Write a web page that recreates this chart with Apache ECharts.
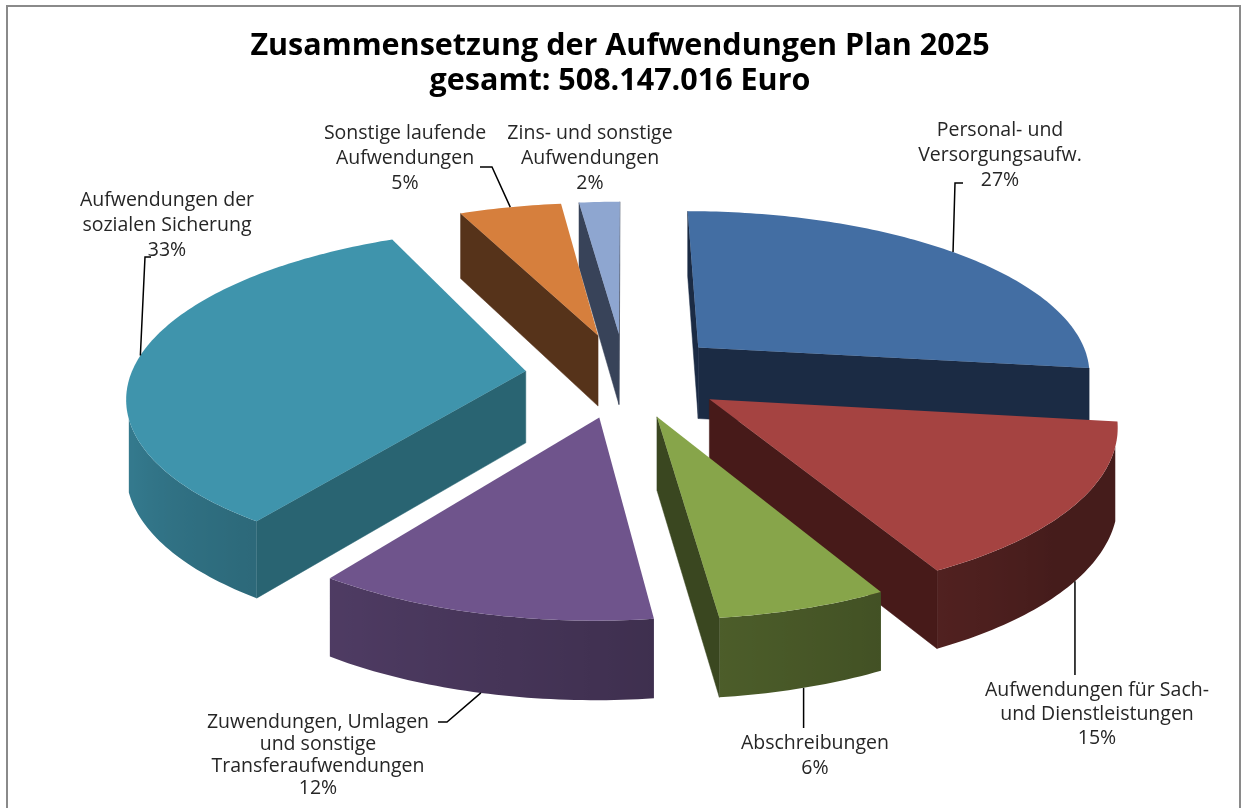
<!DOCTYPE html>
<html><head><meta charset="utf-8">
<script src="https://cdn.jsdelivr.net/npm/echarts@6/dist/echarts.min.js"></script>
<style>html,body{margin:0;padding:0;background:#fff}#c{width:1241px;height:808px}</style>
</head><body><div id="c"></div><script>
// ---- data ----
const titleLines = ['Zusammensetzung der Aufwendungen Plan 2025', 'gesamt: 508.147.016 Euro'];
const categories = ['Personal- und Versorgungsaufw.', 'Aufwendungen für Sach- und Dienstleistungen', 'Abschreibungen',
  'Zuwendungen, Umlagen und sonstige Transferaufwendungen', 'Aufwendungen der sozialen Sicherung',
  'Sonstige laufende Aufwendungen', 'Zins- und sonstige Aufwendungen'];
const labelNames = [['Personal- und', 'Versorgungsaufw.'], ['Aufwendungen für Sach-', 'und Dienstleistungen'], ['Abschreibungen'],
  ['Zuwendungen, Umlagen', 'und sonstige', 'Transferaufwendungen'], ['Aufwendungen der', 'sozialen Sicherung'],
  ['Sonstige laufende', 'Aufwendungen'], ['Zins- und sonstige', 'Aufwendungen']];
const shares = [27, 15, 6, 12, 33, 5, 2];

// ---- styles ----
const topColors = ['#436EA3', '#A54341', '#87A54A', '#6F548C', '#3F94AC', '#D67F3D', '#8EA6D0'];
const edgeColors = ['#1B2B44', '#471A19', '#3A4720', '#47385E', '#296472', '#56331A', '#384359'];

// ---- layout ----
const G = {cx: 625, cy: 375, R: 395, d: 100, k: 0.425, c: 3.56e-4, H: 72};
const labelPos = [[1000, 130], [1097, 690], [815, 743], [318, 722], [167, 200], [405, 133], [590, 133]];
const labelGap = [25, 24, 25, 22, 25, 25, 25];
const leaderPaths = [[[963, 183], [955, 183]], {vy: 675}, {vy: 728}, [[438, 722], [447, 722]], [[151, 257], [145, 257]], [[480, 167], [492, 167]], null];
const LABEL_FONT = '19.5px "Open Sans", sans-serif';
const TITLE_FONT = 'bold 30.5px "Open Sans", sans-serif';

const total = shares.reduce((a, b) => a + b, 0);
const starts = []; let acc = 0;
shares.forEach(s => { starts.push(acc / total * 360); acc += s; });
const RAD = Math.PI / 180;

function sliceGeom(i) {
  const a0 = starts[i], a1 = a0 + shares[i] / total * 360, m = (a0 + a1) / 2;
  return {a0, a1, m, ox: G.d * Math.sin(m * RAD), ov: -G.d * Math.cos(m * RAD)};
}
function proj(X, V) {
  const f = 1 + G.c * V;
  return {x: G.cx + X * f, y: G.cy + V * G.k * f, h: G.H * (1 + 0.6 * (f - 1))};
}
function arcPt(g, th) { return proj(g.ox + G.R * Math.sin(th * RAD), g.ov - G.R * Math.cos(th * RAD)); }
function shade(hex, f) {
  const n = parseInt(hex.slice(1), 16);
  const r = Math.round(((n >> 16) & 255) * f), g = Math.round(((n >> 8) & 255) * f), b = Math.round((n & 255) * f);
  return 'rgb(' + r + ',' + g + ',' + b + ')';
}
function arcFactor(th) { const t = Math.min(1, Math.max(0, (th - 130) / 120)); return 0.42 + 0.4 * t; }

function arcFace(run, i) {
  // run: consecutive arc points going right-to-left on screen
  const top = run.map(p => [p.x, p.y]);
  const bot = run.slice().reverse().map(p => [p.x, p.y + p.h]);
  const xs = run.map(p => p.x);
  const xmin = Math.min.apply(null, xs), xmax = Math.max.apply(null, xs);
  const span = Math.max(1, xmax - xmin);
  const stops = run.slice().reverse().map(p => ({offset: Math.min(1, Math.max(0, (p.x - xmin) / span)), color: shade(topColors[i], arcFactor(p.th))}));
  const fill = new echarts.graphic.LinearGradient(xmin, 0, xmin + span, 0, stops, true);
  return {type: 'polygon', silent: true, shape: {points: top.concat(bot)}, style: {fill: fill}};
}

function renderItem(params, api) {
  const i = api.value(0);
  const g = sliceGeom(i);
  const pts = [proj(g.ox, g.ov)];
  const n = Math.max(2, Math.ceil(g.a1 - g.a0));
  for (let j = 0; j <= n; j++) {
    const th = g.a0 + (g.a1 - g.a0) * j / n;
    const p = arcPt(g, th); p.th = th; pts.push(p);
  }
  const children = [];
  const L = pts.length;
  let run = null;
  const flush = () => { if (run && run.length > 1) children.push(arcFace(run, i)); run = null; };
  for (let e = 0; e < L; e++) {
    const A = pts[e], B = pts[(e + 1) % L];
    const visible = B.x - A.x < -0.8;
    const radial = (e === 0 || e === L - 1);
    if (radial) {
      flush();
      if (visible) {
        children.push({type: 'polygon', silent: true,
          shape: {points: [[A.x, A.y], [B.x, B.y], [B.x, B.y + B.h], [A.x, A.y + A.h]]},
          style: {fill: edgeColors[i], stroke: edgeColors[i], lineWidth: 0.5}});
      }
    } else if (visible) {
      if (!run) run = [A];
      run.push(B);
    } else {
      flush();
    }
  }
  flush();
  children.push({type: 'polygon', silent: true, shape: {points: pts.map(p => [p.x, p.y])}, style: {fill: topColors[i]}});
  return {type: 'group', children};
}

// back-to-front drawing order
const order = shares.map((s, i) => i).sort((a, b) => sliceGeom(a).ov - sliceGeom(b).ov);
const seriesData = order.map(i => ({name: categories[i], value: [i, shares[i]]}));

function anchor(i) {
  const g = sliceGeom(i); const p = arcPt(g, g.m);
  const front = Math.cos(g.m * RAD) < 0;
  return [p.x, front ? p.y + p.h : p.y];
}

const graphics = [];
graphics.push({type: 'rect', silent: true, shape: {x: 7, y: 6, width: 1233, height: 840},
  style: {fill: 'none', stroke: '#8a8a8a', lineWidth: 2}, z: 10});
titleLines.forEach((t, j) => graphics.push({type: 'text', x: 620, y: 46 + j * 35,
  style: {text: t, font: TITLE_FONT, fill: '#000', align: 'center', verticalAlign: 'middle'}, z: 20}));
labelNames.forEach((lines, i) => {
  const all = lines.concat([shares[i] + '%']);
  all.forEach((t, j) => graphics.push({type: 'text', x: labelPos[i][0], y: labelPos[i][1] + j * labelGap[i],
    style: {text: t, font: LABEL_FONT, fill: '#262626', align: 'center', verticalAlign: 'middle'}, z: 20}));
  const lp = leaderPaths[i];
  if (lp) {
    const a = anchor(i);
    const pts = Array.isArray(lp) ? lp.concat([a]) : [[a[0], lp.vy], a];
    graphics.push({type: 'polyline', silent: true, shape: {points: pts},
      style: {stroke: '#000', lineWidth: 1.5, fill: 'none'}, z: 15});
  }
});

const chart = echarts.init(document.getElementById('c'));
chart.setOption({
  animation: false,
  backgroundColor: '#ffffff',
  graphic: graphics,
  series: [{type: 'custom', coordinateSystem: 'none', renderItem: renderItem, data: seriesData, silent: true}]
});
</script></body></html>
